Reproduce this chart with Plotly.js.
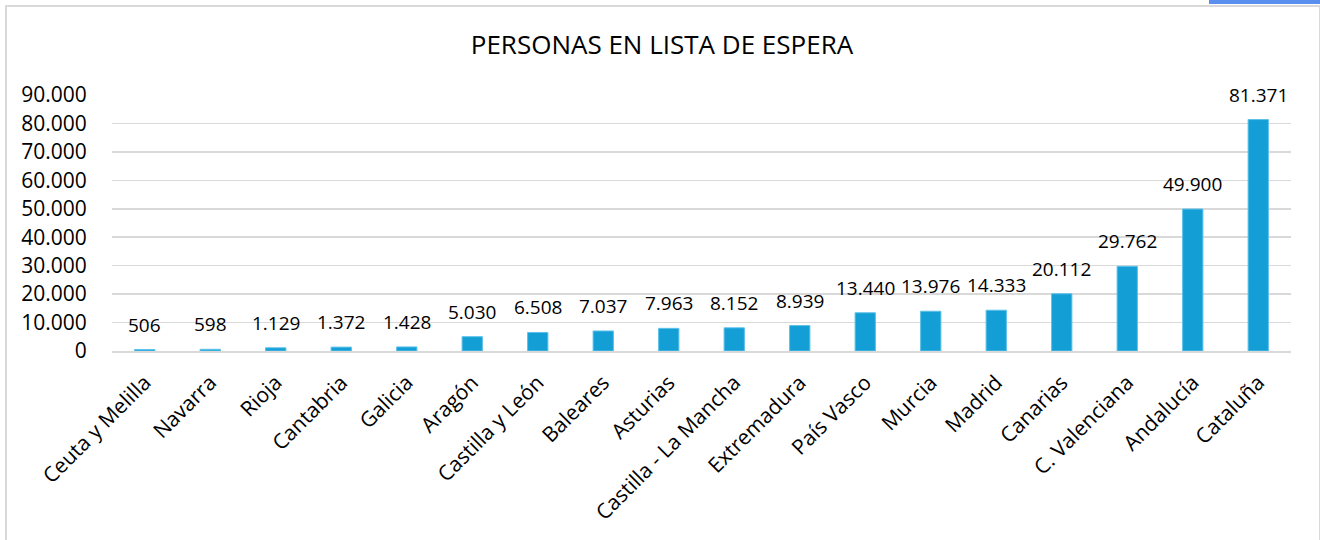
<!DOCTYPE html>
<html>
<head>
<meta charset="utf-8">
<script src="https://cdn.plot.ly/plotly-3.0.1.min.js"></script>
<style>
  html, body { margin: 0; padding: 0; background: #fff; }
  #wrap { position: relative; width: 1320px; height: 540px; overflow: hidden; }
  #chart { position: absolute; left: 0; top: 0; width: 1320px; height: 540px; }
  #frame { position: absolute; left: 5px; top: 5px; width: 1312px; height: 560px; border: 2px solid #d9d9d9; pointer-events: none; }
  #tab { position: absolute; left: 1209px; top: 0; width: 111px; height: 4px; background: #5b8fef; }
</style>
</head>
<body>
<div id="wrap">
  <div id="chart"></div>
  <div id="frame"></div>
  <div id="tab"></div>
</div>
<script>
const regiones = ["Ceuta y Melilla", "Navarra", "Rioja", "Cantabria", "Galicia", "Aragón",
  "Castilla y León", "Baleares", "Asturias", "Castilla - La Mancha", "Extremadura",
  "País Vasco", "Murcia", "Madrid", "Canarias", "C. Valenciana", "Andalucía", "Cataluña"];
const personas = [506, 598, 1129, 1372, 1428, 5030, 6508, 7037, 7963, 8152, 8939,
  13440, 13976, 14333, 20112, 29762, 49900, 81371];
const tickValores = [0, 10000, 20000, 30000, 40000, 50000, 60000, 70000, 80000, 90000];
const tickTextos = ["0", "10.000", "20.000", "30.000", "40.000", "50.000", "60.000", "70.000", "80.000", "90.000"];

function fmt(n) {
  return String(n).replace(/\B(?=(\d{3})+(?!\d))/g, ".");
}

const FONT = "Open Sans, Noto Sans, sans-serif";

const annotations = regiones.map((r, i) => ({
  x: r, y: personas[i], xref: "x", yref: "y",
  text: fmt(personas[i]), showarrow: false,
  yanchor: "middle", yshift: 25,
  font: { family: FONT, size: 19, color: "#000" }
}));

const trace = {
  type: "bar",
  x: regiones,
  y: personas,
  marker: { color: "#139fd6", line: { color: "#5cc0e8", width: 1 } },
  width: 0.31,
  hoverinfo: "x+y"
};

const layout = {
  width: 1320, height: 540,
  margin: { l: 112, r: 29, t: 95, b: 189 },
  paper_bgcolor: "rgba(0,0,0,0)",
  plot_bgcolor: "rgba(0,0,0,0)",
  showlegend: false,
  title: {
    text: "PERSONAS EN LISTA DE ESPERA",
    x: 0.5015, xanchor: "center", xref: "container",
    y: 1 - 45 / 540, yanchor: "middle", yref: "container",
    font: { family: FONT, size: 26, color: "#000" }
  },
  xaxis: {
    type: "category",
    tickangle: -45,
    tickfont: { family: FONT, size: 21, color: "#000" },
    showgrid: false,
    showline: true, linecolor: "#d9d9d9", linewidth: 2,
    ticks: "", ticklen: 0,
    ticklabelstandoff: 9,
    automargin: false
  },
  yaxis: {
    range: [0, 90000],
    tickvals: tickValores,
    ticktext: tickTextos,
    tickfont: { family: FONT, size: 21, color: "#000" },
    showgrid: true, gridcolor: "#d9d9d9", gridwidth: 1.5,
    zeroline: false, showline: false,
    ticks: "outside", ticklen: 20, tickcolor: "rgba(0,0,0,0)",
    automargin: false
  },
  annotations: annotations
};

Plotly.newPlot("chart", [trace], layout, { displayModeBar: false, staticPlot: true });
</script>
</body>
</html>
